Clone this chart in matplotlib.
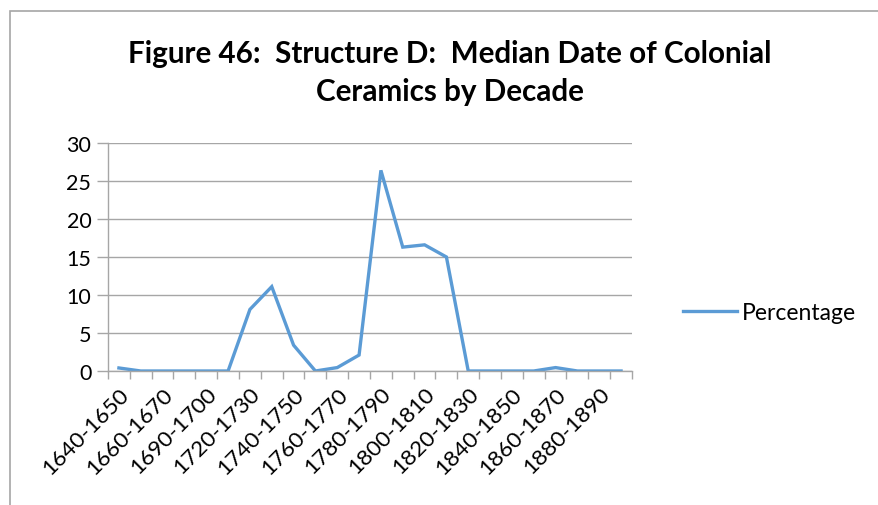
import matplotlib.pyplot as plt
from matplotlib.patches import Rectangle
import numpy as np

plt.rcParams['font.family'] = ['Lato', 'DejaVu Sans']

decades = ['1640-1650', '1650-1660', '1660-1670', '1670-1680', '1690-1700', '1700-1710',
           '1720-1730', '1730-1740', '1740-1750', '1750-1760', '1760-1770', '1770-1780',
           '1780-1790', '1790-1800', '1800-1810', '1810-1820', '1820-1830', '1830-1840',
           '1840-1850', '1850-1860', '1860-1870', '1870-1880', '1880-1890', '1890-1900']
percentage = [0.4, 0, 0, 0, 0, 0,
              8.1, 11.1, 3.4, 0, 0.45, 2.1,
              26.4, 16.3, 16.6, 15.0, 0, 0,
              0, 0, 0.45, 0, 0, 0]

line_color = '#5B9BD5'
grid_color = '#A6A6A6'

fig = plt.figure(figsize=(8.79, 5.06), dpi=100)
ax = fig.add_axes([108/879, 1 - 372/506, 524/879, 228/506])

# chart frame (cropped on right and bottom)
fig.patches.append(Rectangle((10/879, -0.1), 1.2, 1 - 12/506 + 0.1, transform=fig.transFigure,
                             fill=False, edgecolor='#A6A6A6', linewidth=1.2))

index = np.arange(len(decades))
ax.plot(index, percentage, color=line_color, linewidth=2.4, label='Percentage',
        solid_joinstyle='miter')

ax.set_xlim(-0.5, len(decades) - 0.5)
ax.set_ylim(0, 30)
ax.set_yticks(range(0, 31, 5))
ax.yaxis.grid(True, color=grid_color, linewidth=1.0)
ax.set_axisbelow(True)

ax.set_xticks(index[::2])
ax.set_xticklabels(decades[::2], rotation=45, ha='right', va='top', rotation_mode='anchor',
                   fontsize=16.2)
ax.set_xticks(np.arange(-0.5, len(decades), 1), minor=True)
ax.tick_params(axis='x', which='major', length=0, pad=9)
ax.tick_params(axis='x', which='minor', length=6, color=grid_color, width=1)
ax.tick_params(axis='y', length=8, color=grid_color, width=1, labelsize=15.5, pad=4)

for s in ['top', 'right']:
    ax.spines[s].set_visible(False)
for s in ['left', 'bottom']:
    ax.spines[s].set_color(grid_color)
    ax.spines[s].set_linewidth(1.0)

fig.text(450/879, 1 - 73/506, 'Figure 46:  Structure D:  Median Date of Colonial\nCeramics by Decade',
         ha='center', va='center', fontsize=21.3, fontweight='bold', linespacing=1.4)

ax.legend(loc='center left', bbox_to_anchor=(683/879, 1 - 314/506), bbox_transform=fig.transFigure,
          frameon=False, fontsize=16.5, handlelength=2.35, handletextpad=0.2, borderpad=0,
          borderaxespad=0)

fig.savefig('out.png', dpi=100)
